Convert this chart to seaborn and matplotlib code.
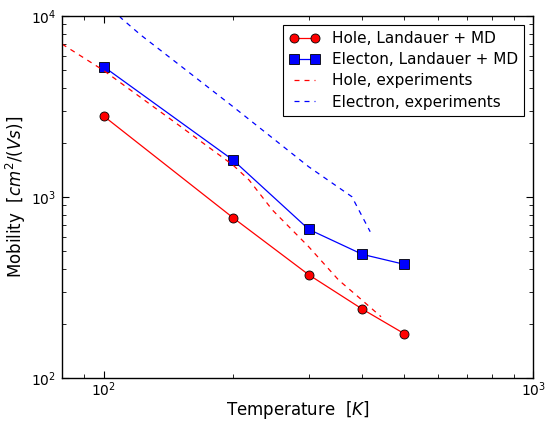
import matplotlib
matplotlib.use('Agg')

import matplotlib.pyplot as plt
import seaborn as sns


# ---------------------------------------------------
# Data
# ---------------------------------------------------

temps = [100, 200, 300, 400, 500]
hole_md = [2800, 768, 372, 240, 176]
electron_md = [5250, 1600, 663, 482, 425]

hole_exp_t = [80, 100, 150, 200, 218, 247, 300, 352, 391, 442]
hole_exp_mu = [7000, 5000, 2480, 1500, 1240, 847, 531, 348, 281, 218]

electron_exp_t = [105, 110, 122, 145, 200, 300, 378, 417]
electron_exp_mu = [11000, 9700, 7850, 5715, 3155, 1469, 1004, 643]


# ---------------------------------------------------
# Plot
# ---------------------------------------------------

sns.set_style('white')
plt.rcParams['font.family'] = ['DejaVu Sans']
plt.rcParams['text.color'] = 'k'
plt.rcParams['axes.labelcolor'] = 'k'
plt.rcParams['xtick.color'] = 'k'
plt.rcParams['ytick.color'] = 'k'

fig = plt.figure(figsize=(5.45, 4.21), dpi=100)
ax = fig.add_axes([0.1138, 0.1021, 0.8650, 0.8599])

dash = (0, (4, 4))

sns.lineplot(
    x=temps, y=hole_md, ax=ax,
    color='#ff0000', marker='o', markersize=6.5,
    markeredgecolor='k', markeredgewidth=0.6, linewidth=0.9,
    label='Hole, Landauer + MD'
)

sns.lineplot(
    x=temps, y=electron_md, ax=ax,
    color='#0000ff', marker='s', markersize=6.5,
    markeredgecolor='k', markeredgewidth=0.6, linewidth=0.9,
    label='Electon, Landauer + MD'
)

sns.lineplot(
    x=hole_exp_t, y=hole_exp_mu, ax=ax,
    color='#ff0000', linestyle=dash, linewidth=0.9,
    label='Hole, experiments'
)

sns.lineplot(
    x=electron_exp_t, y=electron_exp_mu, ax=ax,
    color='#0000ff', linestyle=dash, linewidth=0.9,
    label='Electron, experiments'
)

ax.set_xscale('log')
ax.set_yscale('log')
ax.set_xlim(80, 1000)
ax.set_ylim(100, 10000)

ax.set_xlabel(r'Temperature  $[K]$', fontsize=12, labelpad=0)
ax.set_ylabel(r'Mobility  $\left[cm^2/(Vs)\right]$', fontsize=12, labelpad=2)

ax.tick_params(which='both', direction='in', top=True, right=True,
               bottom=True, left=True, labelsize=10, color='k',
               labelcolor='k')
ax.tick_params(which='major', length=5, width=0.8)
ax.tick_params(which='minor', length=3, width=0.6)
ax.tick_params(axis='x', which='both', pad=2)
ax.tick_params(axis='y', which='both', pad=4)

for s in ax.spines.values():
    s.set_color('k')
    s.set_linewidth(1.0)

leg = ax.legend(loc='upper right', fontsize=11, numpoints=2,
                fancybox=False, framealpha=1, edgecolor='k',
                borderaxespad=0.6, labelspacing=0.4)
leg.get_frame().set_linewidth(0.8)

plt.savefig('out.png', dpi=100)
plt.close()
